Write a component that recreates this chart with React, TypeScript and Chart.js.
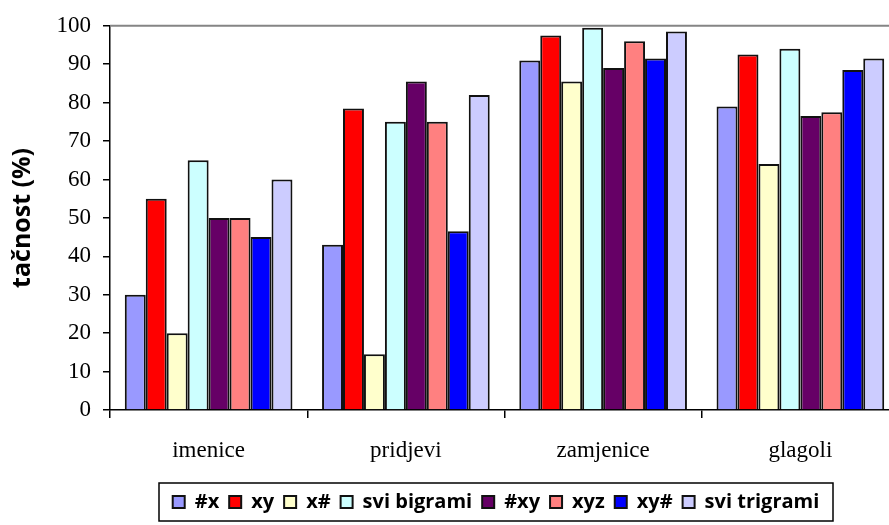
import React, { useEffect, useRef } from "react";
import { Chart, registerables } from "chart.js";

Chart.register(...registerables);

// Word classes on the x axis
const categories = ["imenice", "pridjevi", "zamjenice", "glagoli"];

// Feature sets, one bar series each
const seriesNames = ["#x", "xy", "x#", "svi bigrami", "#xy", "xyz", "xy#", "svi trigrami"];
const seriesColors = ["#9999FF", "#FF0000", "#FFFFCC", "#CCFFFF", "#660066", "#FF8080", "#0000FF", "#CCCCFF"];

// Accuracy (%) per word class
const hashX = [30, 43, 91, 79];
const xy = [55, 78.5, 97.5, 92.5];
const xHash = [20, 14.5, 85.5, 64];
const sviBigrami = [65, 75, 99.5, 94];
const hashXy = [50, 85.5, 89, 76.5];
const xyz = [50, 75, 96, 77.5];
const xyHash = [45, 46.5, 91.5, 88.5];
const sviTrigrami = [60, 82, 98.5, 91.5];

const seriesValues = [hashX, xy, xHash, sviBigrami, hashXy, xyz, xyHash, sviTrigrami];

// Y axis range and step
const yMin = 0;
const yMax = 100;
const yStep = 10;

const yTitle = "tačnost (%)";

const serif = "'Liberation Serif', 'Times New Roman', serif";
const sans = "'Open Sans', Lato, 'Noto Sans', sans-serif";

// Plot frame line on top and a boxed legend
const framePlugin = {
  id: "plotFrame",
  afterLayout(chart: any) {
    const lg = chart.legend;
    if (lg) {
      lg.left = 159;
      lg.right = 833;
      lg.width = lg.right - lg.left;
    }
  },
  beforeDatasetsDraw(chart: any) {
    const { ctx, chartArea } = chart;
    ctx.save();
    ctx.strokeStyle = "#858585";
    ctx.lineWidth = 2;
    ctx.beginPath();
    ctx.moveTo(chartArea.left, chartArea.top);
    ctx.lineTo(chartArea.right, chartArea.top);
    ctx.lineTo(chartArea.right, chartArea.bottom);
    ctx.stroke();
    ctx.restore();
  },
  afterDraw(chart: any) {
    const lg = chart.legend;
    if (!lg) return;
    const { ctx } = chart;
    ctx.save();
    ctx.strokeStyle = "#000";
    ctx.lineWidth = 1.5;
    ctx.strokeRect(lg.left, lg.top + 1, lg.right - lg.left, lg.bottom - lg.top - 2);
    ctx.restore();
  },
};

export default function App() {
  const canvasRef = useRef<HTMLCanvasElement | null>(null);

  useEffect(() => {
    const canvas = canvasRef.current;
    if (!canvas) return;

    const chart = new Chart(canvas, {
      type: "bar",
      data: {
        labels: categories,
        datasets: seriesNames.map((name, i) => ({
          label: name,
          data: seriesValues[i],
          backgroundColor: seriesColors[i],
          borderColor: "#111",
          borderWidth: 2,
          categoryPercentage: 0.85,
          barPercentage: 1,
        })),
      },
      options: {
        responsive: false,
        animation: false,
        layout: { padding: { top: 25, right: 1, bottom: 3, left: 0 } },
        plugins: {
          tooltip: { enabled: false },
          legend: {
            position: "bottom",
            labels: {
              color: "#000",
              boxWidth: 12,
              boxHeight: 12,
              padding: 10,
              font: { family: sans, size: 20, weight: "bold" },
            },
          },
        },
        scales: {
          x: {
            offset: true,
            grid: {
              offset: true,
              drawOnChartArea: false,
              drawTicks: true,
              tickLength: 8,
              color: "#000",
              lineWidth: 1.5,
            },
            border: { display: true, color: "#000", width: 1.5 },
            ticks: {
              color: "#000",
              padding: 19,
              font: { family: serif, size: 23 },
            },
            afterFit(scale: any) {
              scale.height = 72;
            },
          },
          y: {
            min: yMin,
            max: yMax,
            grid: {
              drawOnChartArea: false,
              drawTicks: true,
              tickLength: 7,
              color: "#000",
              lineWidth: 1.5,
            },
            border: { display: true, color: "#000", width: 1.5 },
            ticks: {
              stepSize: yStep,
              color: "#000",
              padding: 12,
              font: { family: serif, size: 23 },
            },
            title: {
              display: true,
              text: yTitle,
              color: "#000",
              padding: { top: 8, bottom: 0 },
              font: { family: sans, size: 25, weight: "bold" },
            },
            afterFit(scale: any) {
              scale.width = 110;
            },
          },
        },
      },
      plugins: [framePlugin],
    });

    return () => chart.destroy();
  }, []);

  return (
    <div
      style={{
        position: "absolute",
        left: 0,
        top: 0,
        width: 889,
        height: 525,
        overflow: "hidden",
        background: "#fff",
      }}
    >
      <canvas ref={canvasRef} width={900} height={525} style={{ width: 900, height: 525, display: "block" }} />
    </div>
  );
}
